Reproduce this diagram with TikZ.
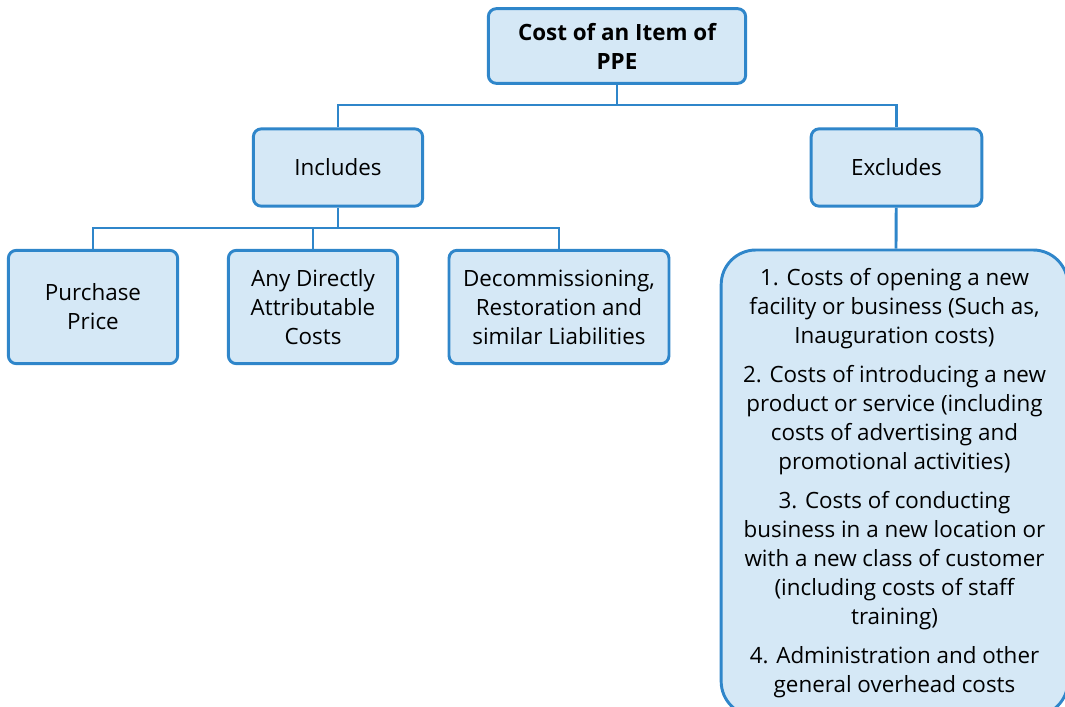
\documentclass[tikz,border=0pt]{standalone}
\usepackage{fontspec}
\setmainfont{Open Sans}
\definecolor{boxfill}{HTML}{D5E8F6}
\definecolor{boxline}{HTML}{2F86CA}
\begin{document}
\begin{tikzpicture}[x=0.75pt,y=-0.75pt]
		\tikzstyle{box}=[rectangle,rounded corners=6pt,line width=2.2pt,draw=boxline,fill=boxfill,align=center,inner sep=2pt,font=\fontsize{16.8}{21.75}\selectfont]
		\tikzstyle{edge}=[draw,line width=2.2pt,boxline]
		\useasboundingbox (0,0) rectangle (1065,707);
		\begin{scope}
			\node [box,minimum width=193pt,minimum height=56pt,font=\fontsize{16.8}{21.75}\selectfont\bfseries] (cost) at (617,46) {Cost of an Item of\\PPE};
			\node [box,minimum width=127pt,minimum height=58pt] (inc) at (338,167.5) {Includes};
			\node [box,minimum width=128pt,minimum height=58pt] (exc) at (896.5,167.5) {Excludes};
			\node [box,minimum width=127pt,minimum height=85pt] (pp) at (93,307) {Purchase\\Price};
			\node [box,minimum width=127pt,minimum height=85pt] (adac) at (313,307) {Any Directly\\Attributable\\Costs};
			\node [box,minimum width=165pt,minimum height=85pt] (dec) at (559,307) {Decommissioning,\\Restoration and\\similar Liabilities};
			\node [box,rounded corners=26pt,minimum width=260pt,minimum height=349.5pt] (list) at (894.5,483) {1. Costs of opening a new\\facility or business (Such as,\\Inauguration costs)\\[7.5pt]2. Costs of introducing a new\\product or service (including\\costs of advertising and\\promotional activities)\\[7.5pt]3. Costs of conducting\\business in a new location or\\with a new class of customer\\(including costs of staff\\training)\\[7.5pt]4. Administration and other\\general overhead costs};
			\coordinate (bus1) at (617,105);
			\coordinate (bus2) at (338,228);
			\path[edge] (cost) -- (bus1);
			\path[edge] (inc.north) |- (bus1) -| (exc.north);
			\path[edge] (inc) -- (bus2);
			\path[edge] (pp.north) |- (bus2) -| (dec.north);
			\path[edge] (adac.north) -- (adac.north |- bus2);
			\path[edge] (exc) -- (list);
		\end{scope}
\end{tikzpicture}
\end{document}
